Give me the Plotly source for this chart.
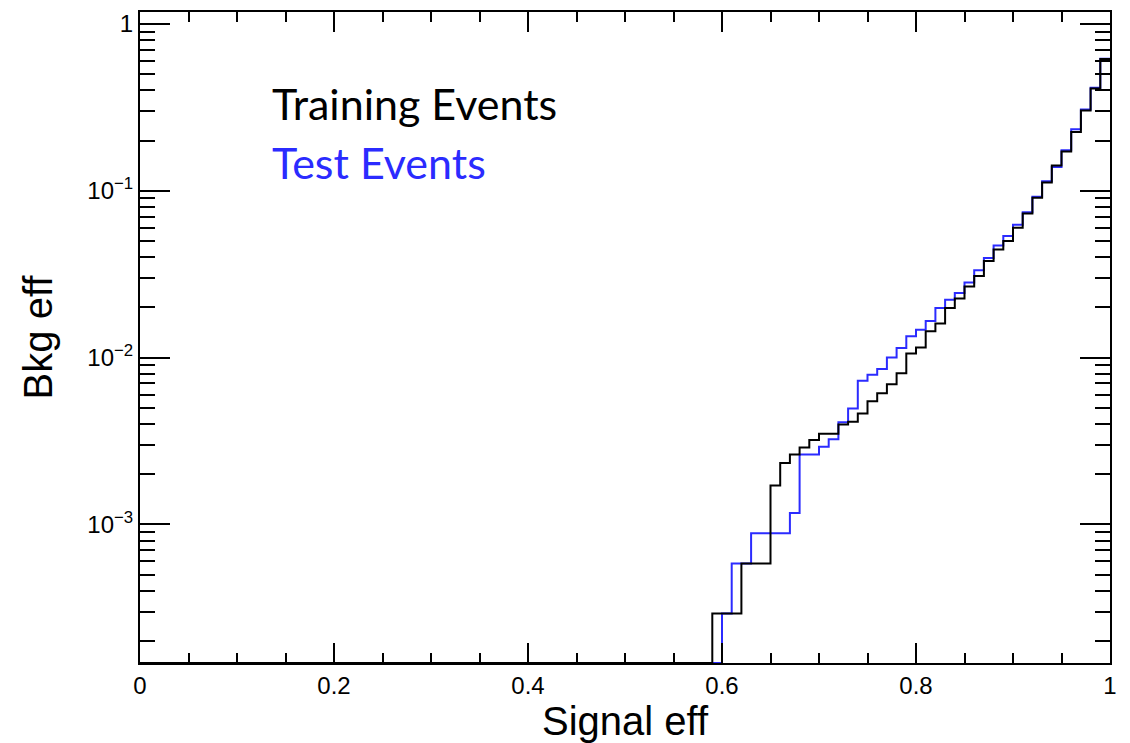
import numpy as np
import plotly.graph_objects as go

# Histogram binning: 100 bins of signal efficiency on [0, 1]
n_bins = 100
bin_edges = np.linspace(0.0, 1.0, n_bins + 1)

# Background efficiency per bin (training sample); bins below 0.59 are empty
train_bkg_eff = [0.0] * 59 + [
    2.92e-4, 2.92e-4, 2.92e-4, 5.82e-4, 5.82e-4, 5.82e-4, 1.71e-3, 2.33e-3,
    2.62e-3, 2.89e-3, 3.21e-3, 3.50e-3, 3.50e-3, 3.97e-3, 4.12e-3, 4.62e-3,
    5.47e-3, 6.12e-3, 6.93e-3, 8.05e-3, 1.06e-2, 1.15e-2, 1.44e-2, 1.60e-2,
    1.98e-2, 2.26e-2, 2.67e-2, 3.08e-2, 3.80e-2, 4.45e-2, 5.00e-2, 6.00e-2,
    7.30e-2, 9.10e-2, 0.112, 0.142, 0.172, 0.225, 0.303, 0.410, 0.617,
]

# Background efficiency per bin (test sample); bins below 0.60 are empty
test_bkg_eff = [0.0] * 60 + [
    2.92e-4, 5.82e-4, 5.82e-4, 8.85e-4, 8.85e-4, 8.85e-4, 8.85e-4, 1.17e-3,
    2.62e-3, 2.62e-3, 2.92e-3, 3.24e-3, 4.10e-3, 4.95e-3, 7.27e-3, 7.90e-3,
    8.55e-3, 1.00e-2, 1.14e-2, 1.345e-2, 1.47e-2, 1.655e-2, 1.98e-2, 2.22e-2,
    2.44e-2, 2.82e-2, 3.34e-2, 3.95e-2, 4.70e-2, 5.35e-2, 6.25e-2, 7.45e-2,
    9.20e-2, 0.114, 0.139, 0.175, 0.234, 0.307, 0.415, 0.620,
]

x_tick_vals = [0.0, 0.2, 0.4, 0.6, 0.8, 1.0]
x_tick_text = ["0", "0.2", "0.4", "0.6", "0.8", "1"]
y_tick_vals = [1.0, 1e-1, 1e-2, 1e-3]
y_tick_text = ["1", "10<sup>\u22121</sup>", "10<sup>\u22122</sup>", "10<sup>\u22123</sup>"]

x_label = "Signal eff"
y_label = "Bkg eff"
train_label = "Training Events"
test_label = "Test Events"

# Log-axis limits (decades)
y_log_min, y_log_max = -3.831, 0.072
y_floor = 10 ** y_log_min

AXIS_FONT = "Liberation Sans"
LABEL_FONT = "Lato"
BLUE = "#2b2bff"


def step_xy(values):
    """Outline of a histogram: one point per lower edge plus the last upper edge.
    Empty bins sit on the bottom of the frame, as on a log scale."""
    v = np.asarray(values, dtype=float)
    v = np.where(v > 0, v, y_floor)
    return bin_edges, np.append(v, v[-1])


fig = go.Figure()

for vals, colour in ((test_bkg_eff, BLUE), (train_bkg_eff, "black")):
    xs, ys = step_xy(vals)
    fig.add_trace(go.Scatter(
        x=xs, y=ys, mode="lines", line=dict(color=colour, width=2, shape="hv"),
        showlegend=False, hoverinfo="skip",
    ))

# Minor ticks at 2..9 x 10^k on the log axis
minor_vals = [m * 10.0 ** k for k in range(-4, 1) for m in range(2, 10)]

fig.update_layout(
    width=1130, height=743,
    margin=dict(l=140, r=20, t=10, b=75),
    paper_bgcolor="white", plot_bgcolor="white",
    font=dict(family=AXIS_FONT, color="black"),
    xaxis=dict(
        range=[0, 1], showgrid=False, zeroline=False,
        showline=True, linecolor="black", linewidth=2, mirror="allticks",
        ticks="inside", ticklen=20, tickwidth=1.5, tickcolor="black",
        tickmode="array", tickvals=x_tick_vals, ticktext=x_tick_text,
        tickfont=dict(size=24, family=AXIS_FONT),
        minor=dict(ticks="inside", ticklen=10, tickwidth=1.5, tickcolor="black",
                   tick0=0, dtick=0.05),
        title=dict(text=x_label, font=dict(size=40, family=AXIS_FONT), standoff=6),
    ),
    yaxis=dict(
        type="log", range=[y_log_min, y_log_max], showgrid=False, zeroline=False,
        showline=True, linecolor="black", linewidth=2, mirror="allticks",
        ticks="inside", ticklen=30, tickwidth=2, tickcolor="black",
        tickmode="array", tickvals=y_tick_vals, ticktext=y_tick_text,
        tickfont=dict(size=24, family=AXIS_FONT),
        minor=dict(ticks="inside", ticklen=15, tickwidth=2, tickcolor="black",
                   tickvals=minor_vals),
        title=dict(text=y_label, font=dict(size=40, family=AXIS_FONT), standoff=22),
    ),
)

fig.add_annotation(
    x=0.134, y=0.859, xref="paper", yref="paper", xanchor="left", yanchor="middle",
    text=train_label, showarrow=False,
    font=dict(family=LABEL_FONT, size=43, color="black"),
)
fig.add_annotation(
    x=0.134, y=0.769, xref="paper", yref="paper", xanchor="left", yanchor="middle",
    text=test_label, showarrow=False,
    font=dict(family=LABEL_FONT, size=43, color=BLUE),
)

fig.write_html("out.html")
